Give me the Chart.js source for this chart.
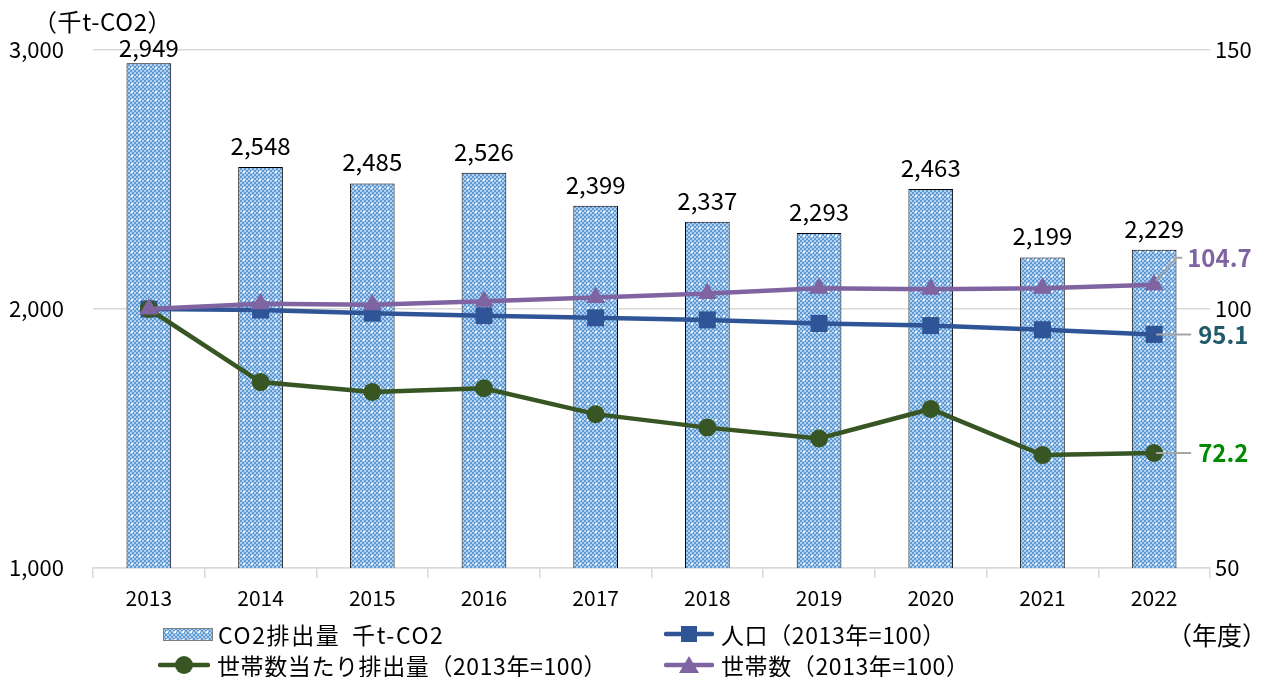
<!DOCTYPE html>
<html><head><meta charset="utf-8">
<script src="https://cdn.jsdelivr.net/npm/chart.js@4"></script>
<style>
html,body{margin:0;padding:0;background:#fff;}
body{width:1269px;height:677px;position:relative;overflow:hidden;font-family:"Noto Sans CJK JP","Noto Sans",sans-serif;color:#000;}
#wrap{position:absolute;left:0;top:0;width:1269px;height:677px;}
.t{position:absolute;font-size:24px;line-height:28px;white-space:nowrap;}
.leg{position:absolute;display:flex;align-items:center;font-size:23px;line-height:28px;white-space:nowrap;letter-spacing:0.6px;}
.leg canvas,.leg svg{margin-right:7px;}
</style></head>
<body>
<div id="wrap"><canvas id="c" width="1269" height="677"></canvas></div>
<div class="t" style="left:33px;top:7px;letter-spacing:0.6px;">（千t-CO2）</div>
<div class="t" style="left:1167px;top:620px;font-size:25px;">（年度）</div>
<div class="leg" style="left:163px;top:620px;"><canvas id="sw" width="50" height="13" style="width:50px;height:13px;margin-right:5px;"></canvas><span style="letter-spacing:1.6px;word-spacing:5px;">CO2排出量 千t-CO2</span></div>
<div class="leg" style="left:664px;top:620px;"><svg width="50" height="22"><line x1="2" y1="11" x2="48" y2="11" stroke="#2f5597" stroke-width="4.5" stroke-linecap="round"/><rect x="17" y="3" width="16" height="16" fill="#2f5597"/></svg><span>人口（2013年=100）</span></div>
<div class="leg" style="left:158px;top:651px;"><svg width="52" height="22"><line x1="2" y1="11" x2="50" y2="11" stroke="#375623" stroke-width="4.5" stroke-linecap="round"/><circle cx="26" cy="11" r="9" fill="#375623"/></svg><span>世帯数当たり排出量（2013年=100）</span></div>
<div class="leg" style="left:664px;top:651px;"><svg width="50" height="22"><line x1="2" y1="11" x2="48" y2="11" stroke="#8064a2" stroke-width="4.5" stroke-linecap="round"/><polygon points="25,2 35,19 15,19" fill="#8064a2"/></svg><span>世帯数（2013年=100）</span></div>
<script>
// ---- data ----
const years = ["2013","2014","2015","2016","2017","2018","2019","2020","2021","2022"];
const co2 = [2949, 2548, 2485, 2526, 2399, 2337, 2293, 2463, 2199, 2229];
const population = [100, 99.8, 99.2, 98.7, 98.3, 97.9, 97.2, 96.8, 96.0, 95.1];
const households = [100, 101.0, 100.8, 101.5, 102.2, 103.0, 104.0, 103.8, 104.0, 104.7];
const perHousehold = [100, 85.9, 84.0, 84.7, 79.7, 77.1, 75.0, 80.7, 71.8, 72.2];
const leftTicks = [1000, 2000, 3000];
const rightTicks = [50, 100, 150];

function makePattern(ctx){
  const p = document.createElement('canvas');
  p.width = 8; p.height = 8;
  const g = p.getContext('2d');
  g.fillStyle = '#ffffff'; g.fillRect(0,0,8,8);
  for(let y=0;y<8;y+=2){for(let x=0;x<8;x+=2){
    if(((x+y)/2)%2===0){g.fillStyle='#5b9bd5';g.fillRect(x,y,2,2);} else {g.fillStyle='#b4d0ee';g.fillRect(x,y,2,2);}
  }}
  g.fillStyle='#ffffff'; g.fillRect(3,3,2,2);
  return ctx.createPattern(p,'repeat');
}
const sw = document.getElementById('sw');
const swc = sw.getContext('2d');
swc.fillStyle = makePattern(swc); swc.fillRect(0,0,50,13);
swc.strokeStyle='#7f7f7f'; swc.lineWidth=1; swc.strokeRect(0.5,0.5,49,12);

const ctx = document.getElementById('c').getContext('2d');
const pattern = makePattern(ctx);
const FONT = '"Noto Sans CJK JP","Noto Sans",sans-serif';

const labelPlugin = {
  id:'labels',
  afterDatasetsDraw(chart){
    const c = chart.ctx;
    c.save();
    const bm = chart.getDatasetMeta(0);
    c.font = '24px ' + FONT;
    c.fillStyle = '#000';
    c.textAlign = 'center';
    c.textBaseline = 'alphabetic';
    bm.data.forEach((b,i)=>{
      c.fillText(co2[i].toLocaleString('en-US'), b.x, Math.max(b.y - 12, 57));
    });
    const last = years.length - 1;
    const pm = chart.getDatasetMeta(1).data[last];
    const hm = chart.getDatasetMeta(2).data[last];
    const gm = chart.getDatasetMeta(3).data[last];
    c.strokeStyle = '#a6a6a6'; c.lineWidth = 2;
    c.beginPath(); c.moveTo(hm.x+2, hm.y-4); c.lineTo(hm.x+22, hm.y-27); c.lineTo(hm.x+28, hm.y-27); c.stroke();
    c.beginPath(); c.moveTo(pm.x+2, pm.y); c.lineTo(pm.x+37, pm.y); c.stroke();
    c.beginPath(); c.moveTo(gm.x+2, gm.y); c.lineTo(gm.x+37, gm.y); c.stroke();
    c.font = 'bold 24px ' + FONT;
    c.textAlign = 'left'; c.textBaseline = 'middle';
    c.fillStyle = '#8064a2'; c.fillText(households[last].toFixed(1), hm.x+33, hm.y-27);
    c.fillStyle = '#215a69'; c.fillText(population[last].toFixed(1), pm.x+44, pm.y);
    c.fillStyle = '#008a00'; c.fillText(perHousehold[last].toFixed(1), gm.x+44, gm.y);
    c.restore();
  }
};

new Chart(ctx, {
  data:{
    labels: years,
    datasets:[
      {type:'bar', label:'CO2排出量 千t-CO2', data:co2, yAxisID:'y', backgroundColor:pattern, borderColor:'#000', borderWidth:1, barPercentage:0.4, categoryPercentage:1.0, order:10},
      {type:'line', label:'人口（2013年=100）', data:population, yAxisID:'y1', borderColor:'#2f5597', backgroundColor:'#2f5597', borderWidth:4.5, pointStyle:'rect', pointRadius:12, pointBorderWidth:0, tension:0, order:3},
      {type:'line', label:'世帯数（2013年=100）', data:households, yAxisID:'y1', borderColor:'#8064a2', backgroundColor:'#8064a2', borderWidth:4.5, pointStyle:'triangle', pointRadius:11, pointBorderWidth:0, tension:0, order:1},
      {type:'line', label:'世帯数当たり排出量（2013年=100）', data:perHousehold, yAxisID:'y1', borderColor:'#375623', backgroundColor:'#375623', borderWidth:4.5, pointStyle:'circle', pointRadius:9, pointBorderWidth:0, tension:0, order:2}
    ]
  },
  options:{
    responsive:false, animation:false, devicePixelRatio:1,
    layout:{padding:{left:0,right:0,top:50,bottom:69}},
    plugins:{legend:{display:false}, tooltip:{enabled:false}},
    scales:{
      x:{
        offset:true,
        grid:{offset:true, drawOnChartArea:false, drawTicks:true, tickLength:10, color:'#d9d9d9', lineWidth:1.5},
        border:{display:true, color:'#d9d9d9', width:1.5},
        ticks:{color:'#000', font:{family:FONT, size:21}, padding:7, maxRotation:0},
        afterFit(s){ s.height = 40; }
      },
      y:{
        position:'left', min:1000, max:3000,
        afterBuildTicks(s){ s.ticks = leftTicks.map(v=>({value:v})); },
        grid:{color:'#d9d9d9', lineWidth:1.5, drawTicks:false},
        border:{display:false},
        ticks:{color:'#000', font:{family:FONT, size:22}, padding:29, callback:v=>v.toLocaleString('en-US')},
        afterFit(s){ s.width = 93; }
      },
      y1:{
        position:'right', min:50, max:150,
        afterBuildTicks(s){ s.ticks = rightTicks.map(v=>({value:v})); },
        grid:{display:false, drawTicks:false},
        border:{display:false},
        ticks:{color:'#000', font:{family:FONT, size:22}, padding:5},
        afterFit(s){ s.width = 59; }
      }
    }
  },
  plugins:[labelPlugin]
});
</script>
</body></html>
